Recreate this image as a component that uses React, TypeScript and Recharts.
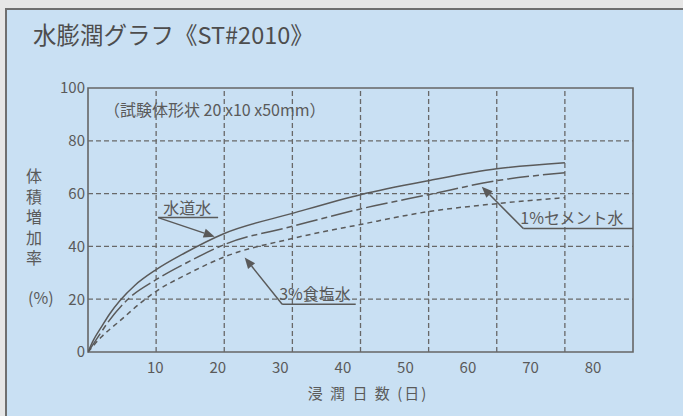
import React from 'react';
import { LineChart, Line, XAxis, YAxis, ReferenceLine, ReferenceArea } from 'recharts';

// immersion days (read against the grid) and volume increase (%)
const tapDays = [0, 0.8, 2, 3.2, 4.7, 6.9, 10, 14.2, 20, 30, 40, 50, 60, 70];
const tapVals = [0, 4.5, 9.6, 14.5, 19.5, 25.3, 31.2, 37.5, 44.9, 52.5, 59.6, 64.9, 69.4, 71.7];

const cementDays = [0, 1.5, 3, 5.7, 10, 15, 20, 30, 40, 50, 60, 70];
const cementVals = [0, 5.8, 11.5, 19.6, 27.4, 34.5, 40.7, 47.6, 54.2, 59.6, 64.9, 67.9];

const saltDays = [0, 2, 4.5, 8.4, 10, 14.2, 20, 30, 40, 50, 60, 70];
const saltVals = [0, 5.8, 11.4, 20, 23, 29, 36, 43, 48.3, 53.2, 56.2, 58.5];

const xTickLabels = [10, 20, 30, 40, 50, 60, 70, 80];
const yTicks = [0, 20, 40, 60, 80, 100];
const xGrid = [10, 20, 30, 40, 50, 60, 70];
const yGrid = [20, 40, 60, 80];

const toPoints = (xs: number[], ys: number[]) => xs.map((x, i) => ({ x, y: ys[i] }));
const tapData = toPoints(tapDays, tapVals);
const cementData = toPoints(cementDays, cementVals);
const saltData = toPoints(saltDays, saltVals);
// the printed day labels sit off the grid; they get their own axis
const labelData = xTickLabels.map((x) => ({ x }));

// callouts: underline from (x1,y) to (x2,y), arrow from (x1,y) to tip
const callouts = [
  { text: '水道水', x1: 10.3, x2: 19.1, y: 50.9, tip: { x: 18.6, y: 43.7 }, dx: 5 },
  { text: '3%食塩水', x1: 28.5, x2: 39.3, y: 18.1, tip: { x: 23.0, y: 35.8 }, dx: -3 },
  { text: '1%セメント水', x1: 63.9, x2: 80, y: 46.8, tip: { x: 57.8, y: 62.6 }, dx: -3 },
];

const INK = '#5a5a5a';
const GRID = '#686868';
const FONT = '"Noto Sans CJK JP", "Noto Sans", sans-serif';

const arrowShape = (p: any) => {
  const { x1, y1, x2, y2 } = p;
  const a = Math.atan2(y2 - y1, x2 - x1);
  const L = 11;
  const W = 4.5;
  const bx = x2 - L * Math.cos(a);
  const by = y2 - L * Math.sin(a);
  const px = -Math.sin(a) * W;
  const py = Math.cos(a) * W;
  return (
    <g>
      <line x1={x1} y1={y1} x2={bx} y2={by} stroke={INK} strokeWidth={1.5} />
      <polygon points={`${x2},${y2} ${bx + px},${by + py} ${bx - px},${by - py}`} fill={INK} />
    </g>
  );
};

const underlineShape = (text: string, dx: number) => (p: any) => (
  <g>
    <line x1={p.x1} y1={p.y1} x2={p.x2} y2={p.y2} stroke={INK} strokeWidth={1.5} />
    <text x={p.x1 + dx} y={p.y1 - 4} fill={INK} fontSize={16}>
      {text}
    </text>
  </g>
);

export default function App() {
  return (
    <div
      style={{
        position: 'fixed',
        left: 0,
        top: 0,
        width: 683,
        height: 416,
        background: '#e6e6e6',
        overflow: 'hidden',
        fontFamily: FONT,
        color: '#4d4d4d',
      }}
    >
      <div
        style={{
          position: 'absolute',
          left: 5,
          top: 8,
          width: 720,
          height: 440,
          background: '#c9e0f3',
          borderLeft: '2px solid #6f6f6f',
          borderTop: '2px solid #6f6f6f',
        }}
      />
      <div style={{ position: 'absolute', left: 33, top: 22, fontSize: 23.5, lineHeight: '25px', whiteSpace: 'nowrap' }}>
        水膨潤グラフ《ST#2010》
      </div>
      <div
        style={{
          position: 'absolute',
          left: 25,
          top: 168,
          fontSize: 16,
          lineHeight: '17px',
          letterSpacing: 4.6,
          writingMode: 'vertical-rl',
          textOrientation: 'upright',
          color: INK,
        }}
      >
        体積増加率
      </div>
      <div style={{ position: 'absolute', left: 28, top: 288, fontSize: 16, lineHeight: '18px', color: INK }}>(%)</div>

      <div style={{ position: 'absolute', left: 0, top: 0 }}>
        <LineChart width={683} height={416} margin={{ top: 88, right: 50, bottom: 34, left: 48 }}>
          <XAxis xAxisId="grid" dataKey="x" type="number" domain={[0, 80]} hide height={0} allowDataOverflow />
          <XAxis
            xAxisId="lab"
            dataKey="x"
            type="number"
            domain={[-0.77, 86.4]}
            ticks={xTickLabels}
            allowDataOverflow
            axisLine={false}
            tickLine={false}
            tickSize={0}
            tickMargin={10}
            tick={{ fill: INK, fontSize: 15 }}
            height={30}
          />
          <YAxis
            type="number"
            domain={[0, 100]}
            ticks={yTicks}
            width={40}
            axisLine={false}
            tickLine={false}
            tickSize={0}
            tickMargin={3}
            tick={{ fill: INK, fontSize: 15 }}
          />
          {xGrid.map((v) => (
            <ReferenceLine key={'gx' + v} xAxisId="grid" x={v} stroke={GRID} strokeWidth={1.3} strokeDasharray="5 3" />
          ))}
          {yGrid.map((v) => (
            <ReferenceLine key={'gy' + v} xAxisId="grid" y={v} stroke={GRID} strokeWidth={1.3} strokeDasharray="5 3" />
          ))}
          <ReferenceArea xAxisId="grid" x1={0} x2={80} y1={0} y2={100} fill="none" fillOpacity={0} stroke="#666" strokeWidth={1.6} />

          <Line xAxisId="lab" data={labelData} dataKey="y" stroke="none" dot={false} activeDot={false} legendType="none" isAnimationActive={false} />
          <Line xAxisId="grid" data={tapData} dataKey="y" type="monotone" stroke={INK} strokeWidth={1.5} dot={false} isAnimationActive={false} />
          <Line xAxisId="grid" data={cementData} dataKey="y" type="monotone" stroke={INK} strokeWidth={1.5} strokeDasharray="22 4 6 4" dot={false} isAnimationActive={false} />
          <Line xAxisId="grid" data={saltData} dataKey="y" type="monotone" stroke={INK} strokeWidth={1.5} strokeDasharray="5 4" dot={false} isAnimationActive={false} />

          {callouts.map((c) => (
            <ReferenceLine
              key={'u' + c.text}
              xAxisId="grid"
              segment={[{ x: c.x1, y: c.y }, { x: c.x2, y: c.y }]}
              shape={underlineShape(c.text, c.dx)}
            />
          ))}
          {callouts.map((c) => (
            <ReferenceLine
              key={'a' + c.text}
              xAxisId="grid"
              segment={[{ x: c.x1, y: c.y }, { x: c.tip.x, y: c.tip.y }]}
              shape={arrowShape}
            />
          ))}
        </LineChart>
      </div>

      <div style={{ position: 'absolute', left: 104, top: 101, fontSize: 16, lineHeight: '17px', color: INK, whiteSpace: 'nowrap' }}>
        （試験体形状 20 x10 x50mm）
      </div>
      <div
        style={{
          position: 'absolute',
          left: 368,
          top: 385,
          transform: 'translateX(-50%)',
          fontSize: 15,
          lineHeight: '16px',
          letterSpacing: 2,
          color: INK,
          whiteSpace: 'nowrap',
        }}
      >
        浸 潤 日 数 (日)
      </div>
    </div>
  );
}
